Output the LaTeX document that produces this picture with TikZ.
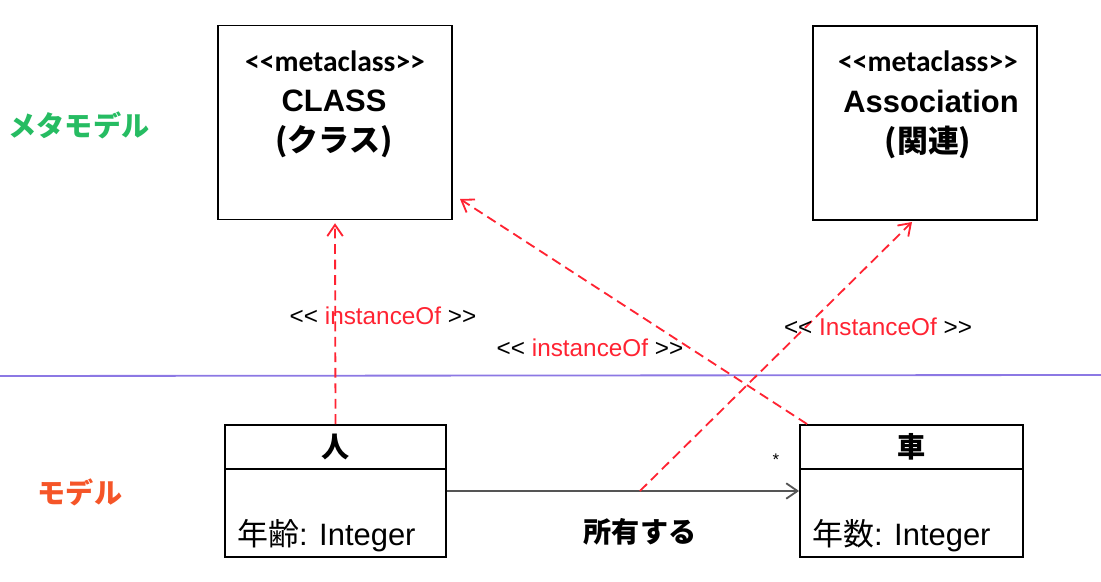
\documentclass[tikz,border=0pt]{standalone}
\usepackage{fontspec}
\setmainfont{Liberation Sans}
\newfontfamily\jpfont{Noto Sans CJK JP}
\newfontfamily\stereofont{Carlito}
\usetikzlibrary{arrows.meta, positioning}
\definecolor{metagreen}{RGB}{38,188,98}
\definecolor{modelorange}{RGB}{245,85,40}
\definecolor{instred}{RGB}{255,35,50}
\definecolor{seppurple}{RGB}{140,120,228}
\definecolor{assocgray}{RGB}{85,85,85}
\newcommand{\stereotype}[1]{<{}<#1>{}>}
\newcommand{\instlabel}[1]{<{}< \textcolor{instred}{#1} >{}>}
\tikzset{
    metabox/.style={rectangle, draw, line width=1.3pt, minimum height=4.85cm},
    clsbox/.style={rectangle, draw, line width=1.3pt, minimum height=3.3cm},
    clshead/.style={rectangle, draw, line width=1.3pt, minimum height=1.1cm, font=\fontsize{20}{24}\selectfont\jpfont\bfseries},
    stereo/.style={inner sep=0pt, font=\fontsize{21}{25}\selectfont\stereofont\bfseries},
    metaname/.style={inner sep=0pt, font=\fontsize{22}{26}\selectfont\bfseries},
    attr/.style={inner sep=0pt, font=\fontsize{22}{26}\selectfont},
    layer/.style={inner sep=0pt, font=\fontsize{20}{24}\selectfont\jpfont\bfseries},
    instlbl/.style={inner sep=0pt, font=\fontsize{17.3}{20}\selectfont},
    separator/.style={draw=seppurple, line width=1.3pt},
    instarrow/.style={-{Straight Barb[length=8pt,width=11pt]}, draw=instred, line width=1.3pt, dash pattern=on 7pt off 4pt},
    assocline/.style={-{Straight Barb[length=8pt,width=11pt]}, draw=assocgray, line width=1.3pt}
}
\begin{document}
\begin{tikzpicture}[x=0.025cm, y=-0.025cm]
    \useasboundingbox (0,0) rectangle (1101,582);

    % Layer names
    \node[layer, text=metagreen] (metaLayer) at (79,125) {メタモデル};
    \node[layer, text=modelorange] (modelLayer) at (80,492) {モデル};

    % Separator
    \coordinate (sepLeft) at (0,376);
    \coordinate (sepRight) at (1101,375);
    \draw[separator] (sepLeft) -- (sepRight);

    % Metaclasses
    \node[metabox, minimum width=5.85cm] (metaClass) at (335,122.5) {};
    \node[stereo] (metaClassStereo) at (335,61) {\stereotype{metaclass}};
    \node[metaname] (metaClassName) at (334,101) {CLASS};
    \node[metaname] (metaClassJa) at (334,142) {\jpfont (クラス)};

    \node[metabox, minimum width=5.6cm] (metaAssoc) at (925,123) {};
    \node[stereo] (metaAssocStereo) at (928,61) {\stereotype{metaclass}};
    \node[metaname] (metaAssocName) at (931,101) {Association};
    \node[metaname] (metaAssocJa) at (928,142) {\jpfont (関連)};

    % Model classes
    \node[clsbox, minimum width=5.525cm] (person) at (335.5,491) {};
    \node[clshead, minimum width=5.525cm, anchor=north] (personHead) at (person.north) {人};
    \node[attr, anchor=west] (personAttr) at (237,536) {{\jpfont 年齢}: Integer};

    \node[clsbox, minimum width=5.575cm] (car) at (911.5,491) {};
    \node[clshead, minimum width=5.575cm, anchor=north] (carHead) at (car.north) {車};
    \node[attr, anchor=west] (carAttr) at (812,536) {{\jpfont 年数}: Integer};

    % Association
    \draw[assocline] (person.east) -- coordinate[pos=0.548] (assocMid) (car.west);
    \node[inner sep=0pt, font=\fontsize{12}{14}\selectfont] (multCar) at (776,460) {*};
    \node[inner sep=0pt, font=\fontsize{20}{24}\selectfont\jpfont\bfseries] (assocName) at (640,532) {所有する};

    % instanceOf
    \coordinate (classTip) at (460,199);
    \coordinate (assocTip) at (912,222);
    \draw[instarrow, shorten >=2pt] (person.north) -- (metaClass.south);
    \draw[instarrow] ([xshift=0.2cm]car.north west) -- (classTip);
    \draw[instarrow] (assocMid) -- (assocTip);
    \node[instlbl] (instPerson) at (383,316) {\instlabel{instanceOf}};
    \node[instlbl] (instCar) at (590,348) {\instlabel{instanceOf}};
    \node[instlbl] (instAssoc) at (878,327) {\instlabel{InstanceOf}};
\end{tikzpicture}
\end{document}
